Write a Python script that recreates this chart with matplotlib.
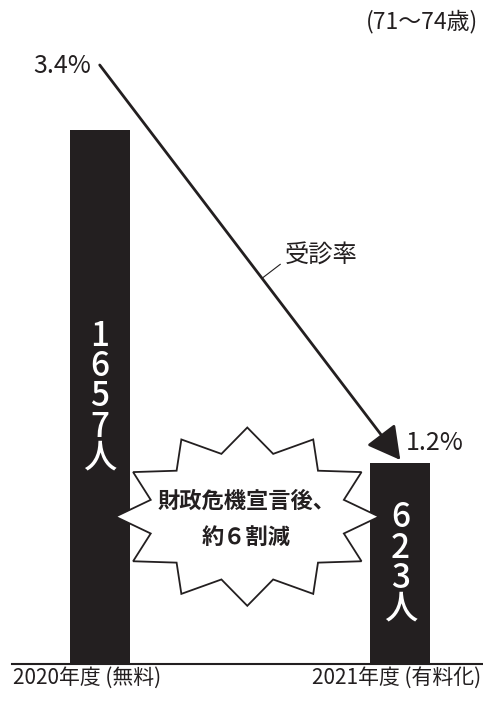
import numpy as np
import matplotlib
matplotlib.use('Agg')
import matplotlib.pyplot as plt
from matplotlib.patches import Polygon

plt.rcParams['font.family'] = ['Noto Sans CJK JP', 'DejaVu Sans']

# データ
years = ['2020年度 (無料)', '2021年度 (有料化)']
people = [1657, 623]
people_labels = ['1657人', '623人']
rates = [3.4, 1.2]
rate_labels = ['3.4%', '1.2%']
age_note = '(71〜74歳)'
rate_title = '受診率'
burst_lines = ['財政危機宣言後、', '約６割減']

ink = '#231f20'

fig = plt.figure(figsize=(4.83, 7.02), dpi=100)
ax = fig.add_axes([0, 0, 1, 1])
ax.set_xlim(-0.3317, 1.2751)
ax.set_ylim(-117.9, 2060.3)
ax.axis('off')

# 棒グラフ（人数）
x = np.arange(len(people))
ax.bar(x, people, width=0.2, color=ink, zorder=2)
ax.axhline(0, xmin=12 / 483, xmax=1, color=ink, lw=1.5, zorder=3)

for xi, v, lab in zip(x, people, people_labels):
    ax.text(xi, v / 2, '\n'.join(lab), color='white', fontsize=24,
            fontweight='medium', ha='center', va='center',
            linespacing=0.83, zorder=4)

# 年度ラベル
ax.text(0.026, 0.034, years[0], transform=ax.transAxes, fontsize=15,
        color=ink, ha='left', va='center')
ax.text(0.996, 0.034, years[1], transform=ax.transAxes, fontsize=15,
        color=ink, ha='right', va='center')
ax.text(0.990, 0.969, age_note, transform=ax.transAxes, fontsize=16.5,
        color=ink, ha='right', va='center')

# 受診率の矢印（別スケール）
ax2 = ax.twinx()
ax2.set_ylim(-0.148, 3.762)
ax2.axis('off')
ax2.annotate('', xy=(x[1], rates[1]), xytext=(x[0], rates[0]),
             arrowprops=dict(arrowstyle='-|>,head_length=1.0,head_width=0.55',
                             mutation_scale=20, lw=2, color=ink,
                             shrinkA=0, shrinkB=0), zorder=3)
ax2.annotate(rate_labels[0], xy=(x[0], rates[0]), xytext=(-6, -1),
             textcoords='offset points', ha='right', va='center',
             fontsize=18, color=ink)
ax2.annotate(rate_labels[1], xy=(x[1], rates[1]), xytext=(4, 12),
             textcoords='offset points', ha='left', va='center',
             fontsize=18, color=ink)

t = 0.54
ax2.annotate(rate_title, xy=(x[0] + t * (x[1] - x[0]), rates[0] + t * (rates[1] - rates[0])),
             xytext=(16, 16), textcoords='offset points', ha='left', va='center',
             fontsize=17.5, color=ink,
             arrowprops=dict(arrowstyle='-', lw=0.8, color=ink,
                             relpos=(0, 0.3), shrinkA=1, shrinkB=0))

# 爆発マーク
cx, cy = 0.512, 0.264
n = 12
ang = np.pi / 2 - np.arange(2 * n) * np.pi / n
rx = np.where(np.arange(2 * n) % 2 == 0, 0.273, 0.207)
ry = np.where(np.arange(2 * n) % 2 == 0, 0.127, 0.0926)
verts = np.column_stack([cx + rx * np.cos(ang), cy + ry * np.sin(ang)])
burst = Polygon(verts, closed=True, transform=ax.transAxes, facecolor='white',
                edgecolor=ink, lw=1.3, zorder=5)
ax.add_patch(burst)
ax.text(cx - 0.002, cy - 0.004, '\n'.join(burst_lines), transform=ax.transAxes,
        fontsize=16, fontweight='bold', color=ink, ha='center', va='center',
        linespacing=1.75, zorder=6)

fig.savefig('out.png', dpi=100)
